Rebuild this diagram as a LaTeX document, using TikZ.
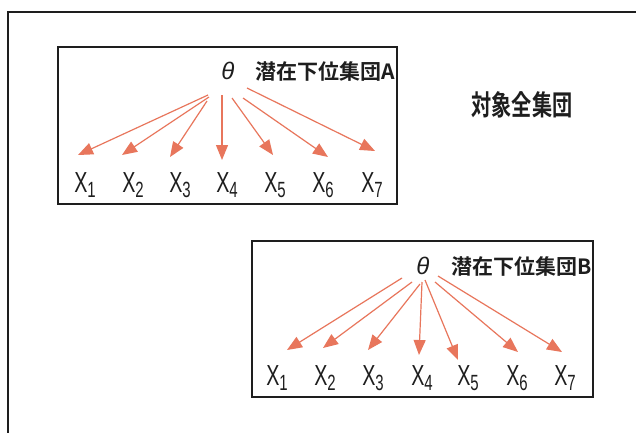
\documentclass[tikz,border=0pt]{standalone}
\usepackage{fontspec}
\usetikzlibrary{arrows.meta}
\newfontfamily\lsans{Liberation Sans}
\newfontfamily\cjk{Noto Sans CJK JP Bold}
\definecolor{arr}{RGB}{232,118,92}
\definecolor{ink}{RGB}{30,30,30}
\newcommand{\xlab}[1]{\scalebox{0.68}[1]{\lsans\fontsize{29}{29}\selectfont X\raisebox{-5pt}{\fontsize{22}{22}\selectfont #1}}}
\tikzset{
  frame/.style={draw=ink,line width=1.8pt},
  varlab/.style={anchor=base,inner sep=0pt,text=ink},
  thetalab/.style={anchor=base,inner sep=0pt,text=ink,font=\lsans\itshape\fontsize{24}{24}\selectfont},
  grouplab/.style={anchor=east,inner sep=0pt,text=ink,font=\cjk\fontsize{21}{21}\selectfont},
  arrline/.style={draw=arr,line width=1.2pt,-{Triangle[length=15pt,width=12pt]}}
}
\begin{document}
\begin{tikzpicture}[x=1pt,y=-1pt]
\useasboundingbox (0,0) rectangle (636,432);
\fill[white] (0,0) rectangle (636,432);
\begin{scope}
\clip (0,0) rectangle (636,432);
\draw[frame] (8,12) rectangle (700,500);
\end{scope}
\node[inner sep=0pt,text=ink] (all) at (522,105) {\scalebox{0.72}[1]{\cjk\fontsize{28}{28}\selectfont 対象全集団}};
% Box A
\draw[frame] (58,47) rectangle (397,204);
\node[thetalab] (tA) at (228,79) {θ};
\node[grouplab] (gA) at (395,71) {潜在下位集団A};
\foreach \i/\x in {1/85,2/133,3/180,4/227,5/275,6/323,7/372}{
  \node[varlab] (a\i) at (\x,192) {\xlab{\i}};
}
\coordinate (as1) at (208,95); \coordinate (ae1) at (78,155);
\coordinate (as2) at (209,97); \coordinate (ae2) at (122,155);
\coordinate (as3) at (207,101); \coordinate (ae3) at (170,157);
\coordinate (as4) at (222,95); \coordinate (ae4) at (222,160);
\coordinate (as5) at (232,98); \coordinate (ae5) at (273,155);
\coordinate (as6) at (243,98); \coordinate (ae6) at (328,157);
\coordinate (as7) at (247,88); \coordinate (ae7) at (375,151);
\foreach \i in {1,...,7}{ \draw[arrline] (as\i) -- (ae\i); }
% Box B
\draw[frame] (252,241) rectangle (593,397);
\node[thetalab] (tB) at (423,274) {θ};
\node[grouplab] (gB) at (592,266) {潜在下位集団B};
\foreach \i/\x in {1/277,2/325,3/373,4/422,5/468,6/517,7/565}{
  \node[varlab] (b\i) at (\x,385) {\xlab{\i}};
}
\coordinate (bs1) at (402,278); \coordinate (be1) at (287,350);
\coordinate (bs2) at (412,282); \coordinate (be2) at (323,348);
\coordinate (bs3) at (420,284); \coordinate (be3) at (368,350);
\coordinate (bs4) at (422,282); \coordinate (be4) at (419,355);
\coordinate (bs5) at (425,280); \coordinate (be5) at (458,360);
\coordinate (bs6) at (435,282); \coordinate (be6) at (518,352);
\coordinate (bs7) at (438,276); \coordinate (be7) at (562,352);
\foreach \i in {1,...,7}{ \draw[arrline] (bs\i) -- (be\i); }
\end{tikzpicture}
\end{document}
